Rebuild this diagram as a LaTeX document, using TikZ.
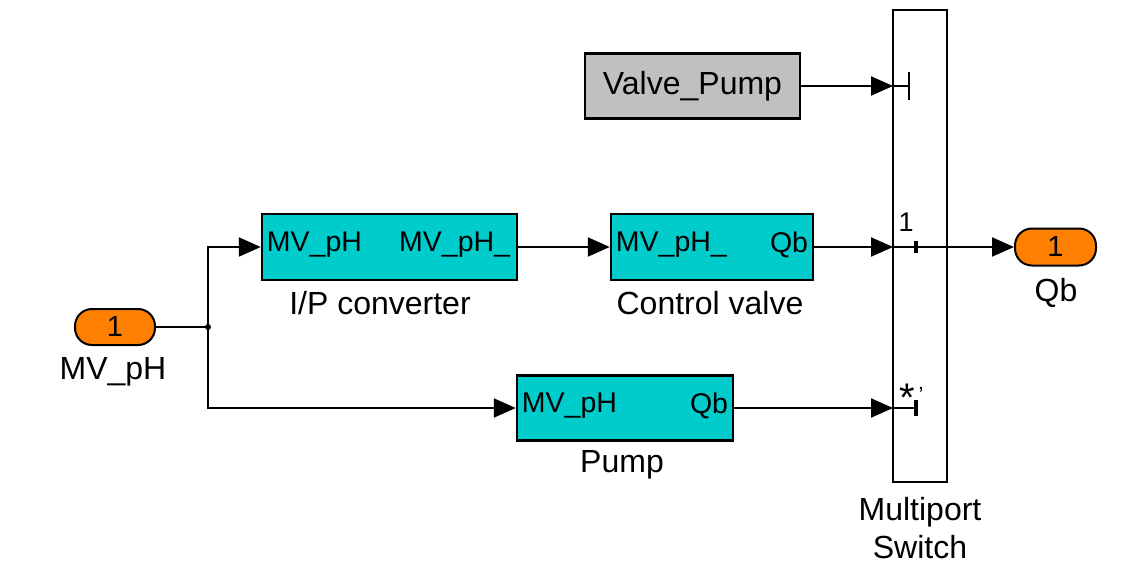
\documentclass[tikz,border=0pt]{standalone}
\usepackage{fontspec}
\setmainfont{Liberation Sans}
\usetikzlibrary{arrows.meta,calc}
\definecolor{simcyan}{RGB}{0,204,204}
\definecolor{simorange}{RGB}{255,128,0}
\definecolor{simgray}{RGB}{192,192,192}
\tikzset{
  blk/.style={draw=black, line width=2.5pt, fill=simcyan, minimum height=66pt, inner sep=0pt},
  gblk/.style={draw=black, line width=2.5pt, fill=simgray, minimum height=65pt, inner sep=0pt},
  port/.style={draw=black, line width=2pt, fill=simorange, rounded corners=17pt, minimum width=80pt, minimum height=36pt, inner sep=0pt, font=\fontsize{29}{32}\selectfont},
  intxt/.style={inner sep=0pt, font=\fontsize{28.5}{32}\selectfont},
  lbl/.style={inner sep=0pt, font=\fontsize{32}{36}\selectfont, align=center},
  wire/.style={line width=2.2pt},
  arr/.style={line width=2.2pt, -{Triangle[length=22pt,width=19pt]}},
  bar/.style={line width=2.2pt},
  tbar/.style={line width=4pt}
}
\begin{document}
\begin{tikzpicture}[x=1pt,y=-1pt]
\useasboundingbox (0,0) rectangle (1141,565);
% blocks
\node[gblk, minimum width=215pt] (vp) at (692.5,86) {};
\node[intxt, font=\fontsize{32}{36}\selectfont] at (vp.center) {Valve\_Pump};
\node[blk, minimum width=255pt] (ip) at (389.5,247) {};
\node[intxt, anchor=west] at ($(ip.west)+(6,-2)$) {MV\_pH};
\node[intxt, anchor=east] at ($(ip.east)+(-8,-2)$) {MV\_pH\_};
\node[lbl] (iplbl) at (380,303) {I/P converter};
\node[blk, minimum width=202pt] (cv) at (712,247) {};
\node[intxt, anchor=west] at ($(cv.west)+(6,-2)$) {MV\_pH\_};
\node[intxt, anchor=east] at ($(cv.east)+(-6,-2)$) {Qb};
\node[lbl] (cvlbl) at (710,303) {Control valve};
\node[blk, minimum width=216pt, minimum height=65pt] (pu) at (625,408) {};
\node[intxt, anchor=west] at ($(pu.west)+(6,-2)$) {MV\_pH};
\node[intxt, anchor=east] at ($(pu.east)+(-6,-2)$) {Qb};
\node[lbl] (pulbl) at (622,465) {Pump};
% switch
\node[draw=black, line width=2.5pt, fill=white, minimum width=54pt, minimum height=472pt, inner sep=0pt] (sw) at (920,246) {};
\node[lbl] (swlbl) at (920,528) {Multiport\\[2pt]Switch};
% ports
\node[port] (in1) at (115,327) {1};
\node[lbl] (inlbl) at (113,372) {MV\_pH};
\node[port, minimum width=81pt, minimum height=37pt] (out1) at (1055.5,247) {1};
\node[lbl] (outlbl) at (1056,293) {Qb};
% coordinates
\coordinate (br) at (208,327);
\coordinate (s0) at (893,86);
\coordinate (s0e) at (909,86);
\coordinate (s1) at (893,247);
\coordinate (s1e) at (947,247);
\coordinate (s2) at (893,408);
\coordinate (s2e) at (916,408);
% wires
\draw[wire] (in1.east) -- (br);
\fill (br) circle (3pt);
\draw[arr] (br) |- (ip.west);
\draw[arr] (br) |- (pu.west);
\draw[arr] (ip.east) -- (cv.west);
\draw[arr] (cv.east) -- (s1);
\draw[arr] (vp.east) -- (s0);
\draw[arr] (pu.east) -- (s2);
\draw[wire] (s1) -- (s1e);
\draw[arr] (s1e) -- (out1.west);
% switch internals
\draw[wire] (s0) -- (s0e);
\draw[bar] ($(s0e)+(0,-14)$) -- ($(s0e)+(0,14)$);
\draw[tbar] (916,241) -- (916,253);
\draw[wire] (s2) -- (s2e);
\draw[tbar] ($(s2e)+(0,-8)$) -- ($(s2e)+(0,8)$);
\node[inner sep=0pt, font=\fontsize{27}{28}\selectfont] (p1lbl) at (906,222) {1};
\node[inner sep=0pt, font=\fontsize{40}{40}\selectfont] (p2star) at (907,398) {*};
\node[inner sep=0pt, font=\fontsize{22}{22}\selectfont] (p2apo) at (921,395) {'};
\end{tikzpicture}
\end{document}
